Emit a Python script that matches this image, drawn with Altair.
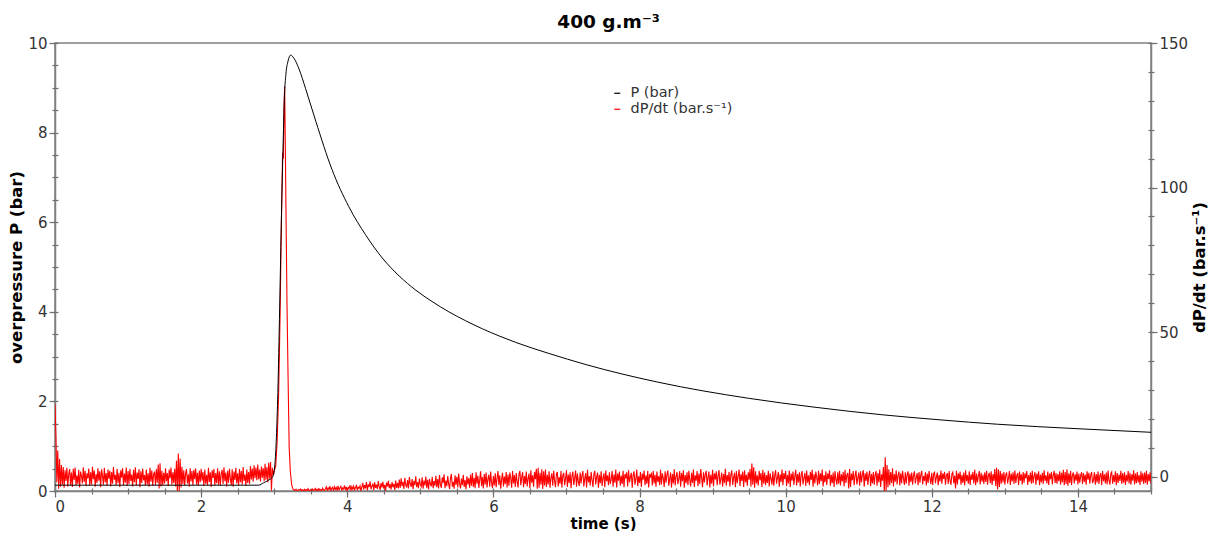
import altair as alt
import pandas as pd

SER_P = "P (bar)"
SER_D = "dP/dt (bar.s⁻¹)"

# ---------------- P (bar) curve ----------------
p_time = [0.0, 2.79, 2.85, 2.93, 2.98, 3.01, 3.03, 3.05, 3.075, 3.10, 3.12, 3.14,
          3.16, 3.19, 3.225, 3.27, 3.34, 3.43, 3.57, 3.79, 4.02, 4.25, 4.48, 4.71,
          4.94, 5.16, 5.39, 5.62, 5.85, 6.08, 6.30, 6.53, 6.76, 7.27, 8.25, 9.49,
          10.4, 11.33, 12.1, 12.9, 14.0, 15.0]
p_bar = [0.13, 0.13, 0.18, 0.25, 0.32, 0.6, 1.2, 2.2, 4.1, 6.2, 7.6, 8.8,
         9.3, 9.6, 9.73, 9.66, 9.42, 8.98, 8.25, 7.18, 6.35, 5.72, 5.20, 4.80,
         4.48, 4.23, 4.00, 3.80, 3.62, 3.46, 3.32, 3.19, 3.07, 2.82, 2.43, 2.07,
         1.87, 1.70, 1.59, 1.49, 1.39, 1.31]

# ---------------- dP/dt (bar/s) trace ----------------
red_step = 0.0125
red_000 = [25, 14, -2.0, 9.0, -4.2, 6.1, -3.5, 4.0, -2.8, 3.3, -3.9, 2.2, -1.5, 3.0, -3.4, 0.8, 2.6, -2.9, 1.4, -3.6,
           2.7, -1.2, 3.1, -3.0, 0.4, -2.6, 2.3, -3.8, 1.7, 0.2, -2.4, 3.2, -1.9, 2.0, -3.3, 1.1, -0.6, 2.8, -3.1, 1.5,
           -2.7, 3.4, -0.9, 2.1, -3.5, 0.9, -2.2, 2.9, -1.4, 1.8, -3.7, 2.5, 0.3, -2.8, 3.0, -2.0, 1.2, -3.2, 2.4, -0.7,
           2.0, -3.4, 1.6, -2.5, 3.3, -1.1, 0.6, -3.0, 2.7, -2.3, 1.3, -3.6, 2.2, -0.4, 2.9, -2.9, 1.0, -2.1, 3.1, -3.3]
red_100 = [1.9, -2.6, 2.6, -1.5, 0.7, -3.4, 2.3, -2.0, 3.2, -3.1, 1.4, -0.8, 2.5, -3.7, 1.8, -2.2, 2.8, -1.3, 0.5, -3.0,
           2.4, -2.7, 1.1, -3.5, 3.0, -1.8, 2.1, -3.2, 0.9, 1.7, -2.9, 2.6, -2.1, 4.2, -4.1, 4.6, -3.4, 2.0, -3.0, 1.3,
           -2.4, 2.9, -1.6, 1.2, -3.3, 2.4, -0.6, 3.1, -2.8, 1.5, -2.2, 2.7, -3.4, 5.5, -5.4, 8.0, -5.0, 6.2, -3.8, 3.4,
           -2.6, 2.2, -3.1, 1.0, 2.6, -2.4, 0.8, -3.5, 2.9, -1.7, 1.9, -3.0, 2.3, -0.9, 2.8, -2.7, 1.3, -3.2, 2.1, -2.0]
red_200 = [2.7, -1.4, 1.6, -3.3, 2.4, -2.5, 0.6, -2.9, 3.0, -1.9, 1.5, -3.6, 2.2, -0.5, 2.6, -3.1, 1.2, -2.3, 2.9, -2.8,
           1.8, -3.0, 0.9, 2.3, -2.6, 3.2, -1.6, 1.4, -3.4, 2.0, -2.1, 2.7, -0.8, -2.9, 2.5, -3.5, 1.7, -1.2, 3.0, -2.4,
           1.1, -3.1, 2.6, -2.0, 1.9, -2.7, 3.3, -1.5, 0.7, -3.2, 2.4, -2.2, 1.6, -2.6, 3.6, -1.0, 2.8, -1.8, 3.9, -0.6,
           3.1, -1.3, 4.2, -0.9, 2.4, -1.7, 3.5, -0.4, 2.9, -1.5, 4.4, -1.1, 3.3, -2.0, 4.8, -0.7, 5.0, -4.8]
spike_t = [2.975, 2.99, 3.0, 3.02, 3.04, 3.06, 3.08, 3.10, 3.115, 3.125, 3.135,
           3.143, 3.15, 3.16, 3.175, 3.19, 3.205, 3.22, 3.24, 3.26]
spike_v = [3.0, 0.5, 2.0, 3.5, 12, 28, 55, 90, 112, 110, 128,
           135, 120, 95, 60, 34, 10, 2, -3, -4.5]
red_328 = [-4.6, -4.9, -4.4, -4.8, -5.0, -4.5, -4.7, -4.3, -4.9, -4.6, -5.0, -4.4, -4.8, -4.5, -4.9, -4.2, -4.7, -5.0,
           -4.5, -4.8, -4.3, -4.9, -4.6, -4.1, -4.8, -4.4, -5.0, -4.2, -4.7, -4.5, -4.9, -4.0, -4.6, -4.8, -4.3]
red_371 = [-3.6, -4.8, -3.9, -4.5, -3.3, -4.9, -4.1, -3.7, -5.0, -3.5, -4.4, -3.8, -4.9, -3.2, -4.6, -4.0, -3.4, -4.8, -3.9, -4.3,
           -3.1, -4.7, -3.6, -5.0, -3.8, -4.2, -3.0, -4.9, -3.5, -4.4, -3.3, -4.6, -3.9, -2.9, -4.8, -3.7, -4.1, -3.2, -5.0, -3.6]
red_421 = [-2.2, -4.5, -3.0, -4.1, -1.9, -4.8, -2.7, -3.6, -1.7, -4.4, -3.3, -2.4, -4.7, -2.0, -3.9, -2.8, -4.3, -1.6, -3.5, -4.6,
           -2.3, -3.8, -1.8, -4.2, -2.9, -4.9, -2.1, -3.4, -1.5, -4.0, -2.6, -4.5, -1.9, -3.7, -2.5, -4.6, -1.4, -3.9, -2.2, -4.1]
red_471 = [-1.0, -3.9, -0.6, -3.3, -1.8, -4.3, -0.4, -2.9, -3.8, -1.2, -4.1, -0.2, -2.5, -3.6, -0.9, -4.4, -1.5, -3.0, 0.1, -3.7,
           -1.9, -4.0, -0.7, -2.8, -3.5, -0.3, -4.2, -1.4, -3.1, 0.0, -3.9, -1.1, -4.5, -0.8, -2.6, -3.4, -0.1, -4.0, -1.6, -3.2]
red_521 = [0.3, -3.7, -0.9, -4.1, 0.5, -2.8, -3.9, -0.3, -2.2, 0.8, -4.0, -1.4, -3.3, 0.2, -2.6, -4.3, -0.6, 0.9, -3.5, -1.8,
           -4.2, 0.4, -2.9, -0.1, -3.8, 1.0, -2.4, -4.1, -0.7, -3.0, 0.6, -3.6, -1.2, -4.4, 0.1, -2.7, -0.5, -3.9, 0.7, -3.2]
red_571 = [1.2, -3.6, -0.4, -4.0, 1.5, -2.5, 0.3, -3.9, -1.1, 1.8, -3.3, -0.2, -4.1, 0.9, -2.7, 1.4, -3.8, -0.8, 0.6, -3.5,
           1.7, -2.2, -4.0, 0.2, -3.1, 1.1, -3.7, -0.5, 1.9, -2.9, 0.4, -4.2, -1.0, 1.3, -3.4, 0.0, -2.6, 1.6, -3.8, 0.7]
red_621 = [-3.2, 1.4, -0.6, -3.9, 1.9, -2.4, 0.5, -3.6, 1.2, -1.7, -3.8, 0.8, 2.0, -3.0, -0.3, 1.5, -3.7, 0.2, -2.6, 1.7,
           -3.4, -0.7, 1.0, -4.0, 2.2, -2.1, 0.4, -3.5, 1.6, -0.9, 2.7, -4.2, 3.0, -3.9, 1.3, -2.8, 2.5, -4.3, 1.8, -3.1]
red_671 = [2.4, -3.6, 0.6, -2.7, 1.8, -3.9, -0.4, 1.1, -3.2, 2.0, -1.5, -3.7, 0.9, 1.6, -3.4, -0.2, -2.5, 1.9, -3.8, 0.3,
           1.3, -3.0, -0.8, 2.2, -3.6, 0.7, -2.2, 1.5, -4.0, 0.1, 1.7, -2.9, -0.6, 2.1, -3.5, 1.0, -1.8, -3.3, 1.4, -2.4]
red_721 = [0.5, 1.9, -3.4, -0.7, 1.2, -3.8, 2.3, -2.0, 0.2, -3.1, 1.6, -1.2, -3.6, 0.8, 2.0, -2.7, -0.3, 1.4, -3.9, 0.6,
           -2.3, 1.8, -3.3, -0.5, 1.1, -3.7, 2.1, -1.6, 0.4, -3.0, 1.5, -2.5, -0.9, 1.9, -3.5, 0.7, -2.1, 2.4, -3.8, 1.0]
red_771 = [-1.4, 1.7, -3.2, 0.3, -2.6, 2.0, -3.7, 0.9, -0.6, 1.5, -3.4, 2.2, -2.0, -0.2, 1.3, -3.9, 0.5, 1.8, -2.8, -0.8,
           2.4, -3.3, 0.1, -2.2, 1.6, -3.6, 1.0, -1.1, 2.1, -3.0, 0.4, -2.5, 1.9, -3.8, 0.8, -0.4, 1.4, -3.1, 2.0, -2.4]
red_821 = [0.6, -3.5, 1.7, -1.9, 0.2, -3.0, 2.3, -2.7, 1.1, -0.5, -3.6, 1.8, -2.1, 0.7, 2.1, -3.2, -0.9, 1.4, -3.8, 0.9,
           -2.4, 2.5, -3.1, 0.0, 1.6, -2.6, -0.7, 1.9, -3.5, 1.2, -1.6, 2.2, -3.9, 0.5, -2.3, 1.5, -3.0, 2.0, -1.2, -3.4]
red_871 = [1.3, -2.2, 2.4, -3.6, 0.4, -1.4, 1.9, -3.3, 1.0, -2.6, 2.6, -0.6, -3.7, 1.5, -2.0, 0.8, 2.0, -3.1, -0.3, 1.7,
           -3.8, 0.6, -2.5, 2.3, -3.4, 1.1, -1.0, 1.8, -3.0, 0.3, 2.2, -2.8, -0.8, 1.4, -3.5, 0.9, -2.2, 2.7, -3.2, 0.5]
red_921 = [-1.8, 1.6, -3.4, 0.7, 2.1, -2.9, -0.4, 1.3, -3.7, 1.9, -2.3, 0.2, 2.4, -3.3, 0.9, -1.5, 1.7, -3.6, 2.2, -2.0,
           0.6, -3.2, 1.5, -1.1, 2.6, -3.5, 4.5, -2.8, 3.2, -3.9, 1.8, -2.4, 0.4, -3.1, 2.0, -1.3, 1.2, -3.6, 2.3, -2.5]
red_971 = [1.4, -3.0, 0.5, -2.2, 2.0, -3.4, 1.1, -0.7, -2.8, 1.8, -3.2, 0.3, 2.2, -2.5, -0.4, 1.6, -3.5, 0.8, -1.9, 2.4,
           -3.0, 1.2, -0.9, 1.9, -3.3, 0.6, -2.4, 2.1, -3.6, 1.0, -1.4, 1.7, -2.9, 0.2, 2.3, -3.1, 0.9, -2.0, 1.5, -3.4]
red_1021 = [0.7, 1.9, -2.7, -0.5, 1.3, -3.3, 2.1, -2.1, 0.4, -3.0, 1.6, -1.2, 2.3, -3.5, 0.9, -2.4, 1.7, -0.3, -3.1, 2.0,
            -2.6, 1.1, -1.6, 2.4, -3.4, 0.5, -2.0, 1.8, -2.9, 1.0, -0.8, 2.2, -3.2, 0.6, -2.3, 1.4, -3.6, 1.9, -1.0, -2.8]
red_1071 = [1.5, -2.5, 2.0, -3.1, 0.8, -1.7, 1.6, -3.4, 2.3, -2.2, 0.5, 1.2, -4.1, 2.6, -3.6, 1.0, -1.3, 1.9, -3.0, 0.3,
            2.1, -2.7, -0.6, 1.4, -3.2, 1.8, -2.0, 0.7, 2.2, -3.5, 1.1, -1.5, 1.7, -2.9, 0.4, 2.0, -3.3, 0.9, -2.4, 1.6]
red_1121 = [-2.8, 0.6, 1.9, -3.2, 1.2, -2.0, 2.4, -3.6, 0.8, -1.4, 3.3, -5.4, 6.7, -4.9, 4.0, -3.7, 2.5, -3.0, 1.6, -2.2,
            2.9, -3.4, 0.9, -1.8, 2.2, -2.7, 0.4, 1.7, -3.1, 1.1, -2.3, 2.0, -0.7, -2.9, 1.5, -2.5, 0.8, 1.8, -3.2, 1.0]
red_1171 = [-1.9, 1.4, -2.8, 0.5, 1.8, -2.4, -0.3, 1.2, -3.0, 1.6, -2.1, 0.7, 2.0, -2.7, 0.2, -1.5, 1.5, -3.1, 1.0, -2.2,
            1.9, -0.6, -2.6, 1.3, -2.9, 0.8, 1.7, -2.3, -0.2, 1.4, -3.0, 0.6, -1.7, 2.1, -2.5, 1.1, -0.8, 1.6, -2.8, 0.4]
red_1221 = [1.2, -2.6, 1.9, -1.4, -2.9, 0.9, 1.5, -2.3, 0.3, -4.1, 2.0, -2.7, 1.1, -1.0, 1.7, -2.8, 0.6, -2.2, 1.4, -3.1,
            2.2, -1.6, 0.5, -2.5, 1.8, -2.9, 0.8, -1.2, 1.6, -2.4, 2.4, -3.0, 1.0, -2.0, 0.2, 1.9, -2.7, 1.3, -1.8, 0.7]
red_1271 = [-2.6, 1.5, -1.9, 2.0, -2.8, 0.4, 1.3, -2.3, 1.8, -2.9, 0.9, -1.5, 2.6, -3.3, 3.0, -4.5, 2.4, -3.6, 1.9, -2.5,
            1.1, -2.0, 1.6, -2.8, 0.6, 1.4, -2.4, -0.5, 1.9, -2.9, 1.0, -1.7, 1.5, -2.6, 2.1, -2.2, 0.3, 1.2, -2.9, 1.7]
red_1321 = [-1.4, 0.8, -2.7, 1.6, -2.1, 1.1, -0.6, 1.9, -2.9, 0.5, -1.8, 1.4, -2.5, 2.0, -2.3, 0.2, 1.5, -2.8, 1.0, -1.3,
            1.8, -3.0, 0.7, -2.0, 1.3, -2.6, 2.2, -1.5, 0.4, -2.4, 1.7, -2.9, 1.0, -0.9, 1.6, -2.7, 0.6, 2.0, -2.2, 1.2]
red_1371 = [-2.5, 0.9, -1.6, 1.8, -2.8, 1.3, -2.0, 2.3, -3.0, 1.6, -2.6, 2.5, -3.2, 1.1, -2.2, 1.9, -2.9, 0.6, 1.4, -2.4,
            0.8, -1.4, 1.7, -2.7, 1.0, -2.1, 0.4, 1.5, -2.6, 1.2, -1.9, 0.7, -2.8, 1.8, -1.1, 1.3, -2.5, 0.5, 1.6, -2.3]
red_1421 = [-1.2, 1.5, -2.8, 0.9, -2.0, 1.7, -2.6, 0.4, 1.2, -2.9, 1.9, -1.6, 0.8, -2.4, 1.4, -2.7, 2.1, -1.3, -2.8, 1.0,
            1.6, -2.5, 0.5, -1.9, 1.8, -3.0, 1.2, -2.2, 0.7, -1.5, 2.0, -2.6, 1.1, -2.1, 1.5, -2.9, 0.6, -1.7, 1.9, -2.4,
            1.3, -2.8, 0.8, -1.4, 2.2, -2.7, 1.0, -2.3, 1.6, -2.0, 0.5, -2.9, 1.8, -1.8, 1.1, -2.6, 1.4, -2.2, 2.0, -2.8,
            0.9, -1.6, 1.5, -2.5]

red_blocks = [(0.0, red_000), (1.0, red_100), (2.0, red_200), (3.275, red_328),
              (3.7125, red_371), (4.2125, red_421), (4.7125, red_471), (5.2125, red_521),
              (5.7125, red_571), (6.2125, red_621), (6.7125, red_671), (7.2125, red_721),
              (7.7125, red_771), (8.2125, red_821), (8.7125, red_871), (9.2125, red_921),
              (9.7125, red_971), (10.2125, red_1021), (10.7125, red_1071), (11.2125, red_1121),
              (11.7125, red_1171), (12.2125, red_1221), (12.7125, red_1271), (13.2125, red_1321),
              (13.7125, red_1371), (14.2125, red_1421)]

# ---------------- axis tick lists ----------------
x_major = [0, 2, 4, 6, 8, 10, 12, 14]
x_minor = [0, 0.5, 1, 1.5, 2, 2.5, 3, 3.5, 4, 4.5, 5, 5.5, 6, 6.5, 7, 7.5, 8, 8.5,
           9, 9.5, 10, 10.5, 11, 11.5, 12, 12.5, 13, 13.5, 14, 14.5, 15]
yl_major = [0, 2, 4, 6, 8, 10]
yl_minor = [0, 0.5, 1, 1.5, 2, 2.5, 3, 3.5, 4, 4.5, 5, 5.5, 6, 6.5, 7, 7.5, 8, 8.5,
            9, 9.5, 10]
yr_major = [0, 50, 100, 150]
yr_minor = [0, 10, 20, 30, 40, 50, 60, 70, 80, 90, 100, 110, 120, 130, 140, 150]

# ---------------- tables ----------------
df_p = pd.DataFrame({"t": p_time, "v": p_bar, "series": SER_P})

rows = []
for start, vals in red_blocks:
    for i, v in enumerate(vals):
        rows.append({"t": round(start + i * red_step, 5), "v": v})
for t, v in zip(spike_t, spike_v):
    rows.append({"t": t, "v": v})
df_d = pd.DataFrame(rows).sort_values("t").reset_index(drop=True)
df_d = df_d[df_d["t"] <= 15.0]
df_d["series"] = SER_D

# ---------------- scales ----------------
xs = alt.Scale(domain=[0, 15], nice=False, zero=False)
yls = alt.Scale(domain=[0, 10], nice=False, zero=False)
yrs = alt.Scale(domain=[-5, 150], nice=False, zero=False)

color = alt.Color(
    "series:N",
    scale=alt.Scale(domain=[SER_P, SER_D], range=["#000000", "#ff0000"]),
    legend=alt.Legend(
        title=None, orient="none", legendX=555, legendY=43, padding=0,
        symbolType="stroke", symbolSize=36, symbolStrokeWidth=1.2,
        labelFont="DejaVu Sans", labelFontSize=14.5, labelColor="#333333",
        labelOffset=6, rowPadding=1,
    ),
)

red = alt.Chart(df_d).mark_line(strokeWidth=1.1, clip=True).encode(
    x=alt.X("t:Q", scale=xs, axis=None),
    y=alt.Y("v:Q", scale=yrs, axis=alt.Axis(
        orient="right", values=yr_major, title=SER_D, tickSize=6, labelPadding=2,
        titleAngle=270, titleBaseline="top", titlePadding=4, titleFontSize=16.5)),
    color=color,
)

black = alt.Chart(df_p).mark_line(strokeWidth=1, clip=True, interpolate="monotone").encode(
    x=alt.X("t:Q", scale=xs, axis=alt.Axis(
        orient="bottom", values=x_major, title="time (s)", tickSize=6,
        labelPadding=2, titlePadding=2)),
    y=alt.Y("v:Q", scale=yls, axis=alt.Axis(
        orient="left", values=yl_major, title="overpressure P (bar)", tickSize=6,
        labelPadding=2, titlePadding=3, titleFontSize=16.5)),
    color=color,
)

minor_a = alt.Chart(df_p).mark_line(strokeOpacity=0).encode(
    x=alt.X("t:Q", scale=xs, axis=alt.Axis(
        orient="bottom", values=x_minor, labels=False, domain=False, tickSize=6,
        offset=-3, title=None)),
    y=alt.Y("v:Q", scale=yls, axis=alt.Axis(
        orient="left", values=yl_minor, labels=False, domain=False, tickSize=6,
        offset=-3, title=None)),
)

minor_b = alt.Chart(df_d).mark_line(strokeOpacity=0).encode(
    x=alt.X("t:Q", scale=xs, axis=None),
    y=alt.Y("v:Q", scale=yrs, axis=alt.Axis(
        orient="right", values=yr_minor, labels=False, domain=False, tickSize=6,
        offset=-3, title=None)),
)

chart = (
    alt.layer(red, black, minor_a, minor_b)
    .resolve_scale(x="independent", y="independent")
    .resolve_axis(x="independent", y="independent")
    .properties(
        width=1201, height=523,
        autosize=alt.AutoSizeParams(type="fit", contains="padding"),
        padding={"left": 0, "top": 4, "right": 0, "bottom": 0},
        title=alt.TitleParams("400 g.m⁻³", font="DejaVu Sans", fontSize=18.5,
                              fontWeight="bold", color="#000000", anchor="middle",
                              frame="bounds", offset=5),
    )
    .configure_view(stroke="#808080", strokeWidth=1.5)
    .configure_axis(
        labelFont="DejaVu Sans", labelFontSize=15, labelColor="#333333",
        titleFont="DejaVu Sans", titleFontSize=15, titleFontWeight="bold",
        titleColor="#000000", domainColor="#808080", domainWidth=1.5,
        tickColor="#707070", tickWidth=1.2, grid=False,
    )
)

chart.save("out.html", embed_options={"renderer": "svg", "actions": False})
